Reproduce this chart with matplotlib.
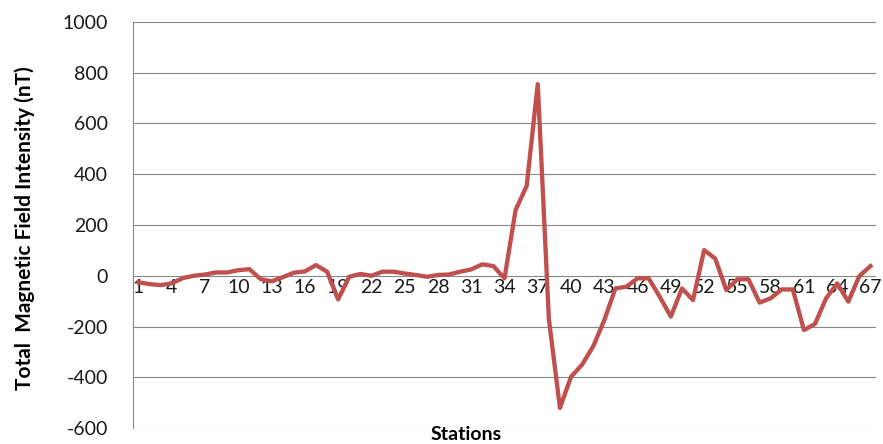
import matplotlib
matplotlib.use('Agg')
import numpy as np
import matplotlib.pyplot as plt

plt.rcParams['font.family'] = ['Lato', 'DejaVu Sans']
plt.rcParams['axes.unicode_minus'] = False

# station numbers and total field readings (nT)
stations = list(range(1, 68))
intensity = [-26, -33, -37, -30, -9, 0, 5, 13, 13, 22,
             26, -13, -22, -6, 12, 17, 42, 16, -93, -4,
             7, 0, 16, 16, 9, 3, -4, 3, 5, 16,
             25, 45, 38, -10, 259, 354, 755, -170, -521, -398,
             -350, -278, -175, -50, -43, -10, -10, -83, -161, -50,
             -96, 101, 68, -56, -14, -14, -106, -89, -54, -54,
             -214, -190, -89, -30, -102, -1, 38]
y_ticks = [-600, -400, -200, 0, 200, 400, 600, 800, 1000]
x_ticks = stations[::3]

fig = plt.figure(figsize=(8.83, 4.44), dpi=100)
ax = fig.add_axes([133/883, 16/444, 743/883, 406/444])

ax.plot(stations, intensity, color='#C0504D', lw=3.1, solid_joinstyle='round', zorder=3)

ax.set_xlim(0.5, 67.5)
ax.set_ylim(-600, 1000)
ax.set_yticks(y_ticks)
ax.set_xticks(x_ticks)
ax.set_xticklabels([str(s) for s in x_ticks])

ax.yaxis.grid(True, color='#868686', lw=0.8)
ax.set_axisbelow(True)

for s in ['top', 'right']:
    ax.spines[s].set_visible(False)
ax.spines['left'].set_color('#868686')
ax.spines['left'].set_linewidth(0.8)
ax.spines['bottom'].set_position(('data', 0))
ax.spines['bottom'].set_visible(False)

ax.tick_params(axis='y', length=0, pad=18, labelsize=14, labelcolor='#1a1a1a')
ax.tick_params(axis='x', length=0, pad=2, labelsize=14, labelcolor='#1a1a1a')

fig.text(25/883, 1 - 228/444, 'Total  Magnetic Field Intensity (nT)', rotation=90,
         ha='center', va='center', fontsize=15, fontweight='bold')
fig.text(466/883, 1 - 434.5/444, 'Stations', ha='center', va='center',
         fontsize=14, fontweight='bold')

fig.savefig('out.png', dpi=100)
plt.close()
